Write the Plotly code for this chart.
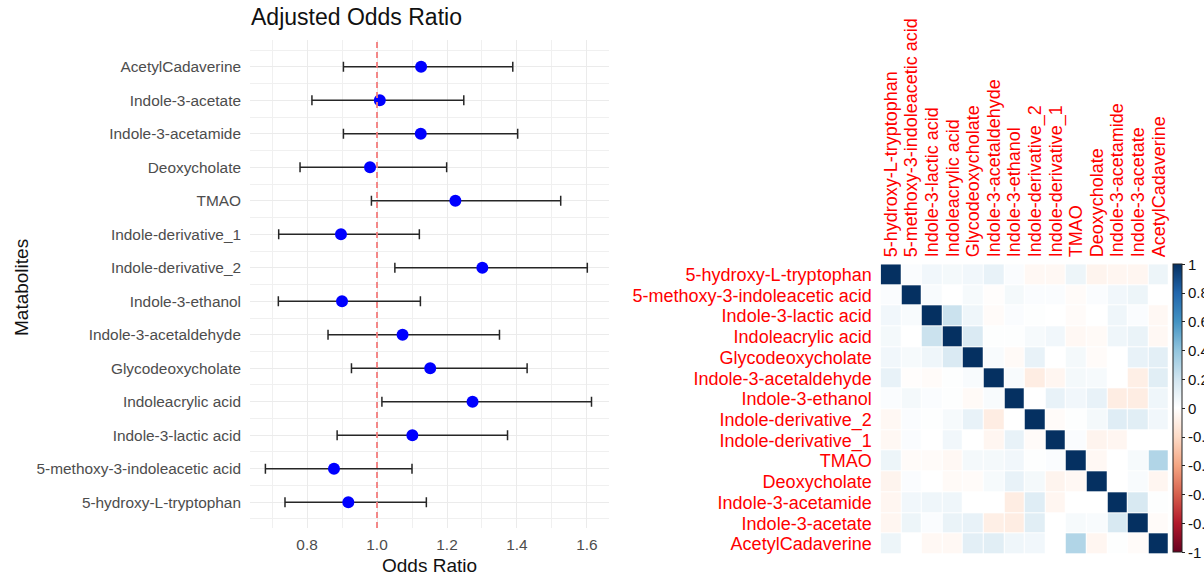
import plotly.graph_objects as go

W, H = 1204, 577

# ---------------- data ----------------
metabolites = [
    "5-hydroxy-L-tryptophan", "5-methoxy-3-indoleacetic acid", "Indole-3-lactic acid",
    "Indoleacrylic acid", "Glycodeoxycholate", "Indole-3-acetaldehyde", "Indole-3-ethanol",
    "Indole-derivative_2", "Indole-derivative_1", "TMAO", "Deoxycholate",
    "Indole-3-acetamide", "Indole-3-acetate", "AcetylCadaverine",
]
odds_ratio = [0.918, 0.877, 1.101, 1.273, 1.152, 1.073, 0.900, 1.301, 0.897, 1.224, 0.980, 1.125, 1.008, 1.126]
ci_low = [0.737, 0.681, 0.886, 1.014, 0.927, 0.860, 0.718, 1.051, 0.719, 0.984, 0.780, 0.904, 0.814, 0.904]
ci_high = [1.141, 1.100, 1.373, 1.613, 1.429, 1.350, 1.124, 1.601, 1.121, 1.525, 1.199, 1.402, 1.248, 1.388]

x_ticks = [0.8, 1.0, 1.2, 1.4, 1.6]
x_tick_labels = ["0.8", "1.0", "1.2", "1.4", "1.6"]

corr = [
    [1.00, 0.02, 0.06, 0.05, 0.06, 0.10, 0.02, -0.04, -0.04, 0.08, -0.06, -0.05, -0.05, 0.08],
    [0.02, 1.00, 0.03, 0.00, 0.04, -0.01, 0.05, 0.02, 0.02, -0.02, 0.02, 0.06, 0.08, 0.00],
    [0.06, 0.03, 1.00, 0.22, 0.07, -0.02, 0.02, 0.01, 0.00, -0.02, 0.00, 0.07, 0.02, -0.04],
    [0.05, 0.00, 0.22, 1.00, 0.16, 0.01, 0.01, 0.04, 0.06, -0.04, -0.03, 0.07, 0.09, -0.04],
    [0.06, 0.04, 0.07, 0.16, 1.00, 0.03, -0.03, 0.10, 0.00, 0.05, -0.02, 0.00, 0.10, 0.12],
    [0.10, -0.01, -0.02, 0.01, 0.03, 1.00, 0.03, -0.10, -0.05, 0.05, 0.04, 0.00, -0.09, 0.13],
    [0.02, 0.05, 0.02, 0.01, -0.03, 0.03, 1.00, 0.00, 0.10, 0.06, 0.10, -0.10, -0.10, 0.07],
    [-0.04, 0.02, 0.01, 0.04, 0.10, -0.10, 0.00, 1.00, -0.02, 0.01, 0.05, 0.14, 0.13, 0.06],
    [-0.04, 0.02, 0.00, 0.06, 0.00, -0.05, 0.10, -0.02, 1.00, 0.02, -0.06, -0.05, 0.00, 0.00],
    [0.08, -0.02, -0.02, -0.04, 0.05, 0.05, 0.06, 0.01, 0.02, 1.00, -0.04, 0.00, 0.04, 0.30],
    [-0.06, 0.02, 0.00, -0.03, -0.02, 0.04, 0.10, 0.05, -0.06, -0.04, 1.00, 0.00, 0.03, -0.05],
    [-0.05, 0.06, 0.07, 0.07, 0.00, 0.00, -0.10, 0.14, -0.05, 0.00, 0.00, 1.00, 0.17, 0.01],
    [-0.05, 0.08, 0.02, 0.09, 0.10, -0.09, -0.10, 0.13, 0.00, 0.04, 0.03, 0.17, 1.00, -0.02],
    [0.08, 0.00, -0.04, -0.04, 0.12, 0.13, 0.07, 0.06, 0.00, 0.30, -0.05, 0.01, -0.02, 1.00],
]

cbar_ticks = [1, 0.8, 0.6, 0.4, 0.2, 0, -0.2, -0.4, -0.6, -0.8, -1]
cbar_labels = ["1", "0.8", "0.6", "0.4", "0.2", "0", "-0.2", "-0.4", "-0.6", "-0.8", "-1"]

corr_colors = ["#67001F", "#B2182B", "#D6604D", "#F4A582", "#FDDBC7", "#FFFFFF",
               "#D1E5F0", "#92C5DE", "#4393C3", "#2166AC", "#053061"]

# ---------------- figure ----------------
FONT = "Liberation Sans, Arial, Helvetica, sans-serif"
n = len(metabolites)
ypos = list(range(1, n + 1))

def px_x(p):
    return p / W

def px_y(p):
    return (H - p) / H

fig = go.Figure()

fig.add_trace(go.Scatter(
    x=odds_ratio, y=ypos, mode="markers",
    marker=dict(color="#0000FF", size=12),
    error_x=dict(type="data", symmetric=False,
                 array=[h - o for h, o in zip(ci_high, odds_ratio)],
                 arrayminus=[o - l for o, l in zip(odds_ratio, ci_low)],
                 color="#262626", thickness=1.5, width=5),
    xaxis="x", yaxis="y", showlegend=False, hoverinfo="skip",
))

fig.add_trace(go.Heatmap(
    z=corr, x=metabolites, y=metabolites,
    zmin=-1, zmax=1,
    colorscale=[[i / (len(corr_colors) - 1), c] for i, c in enumerate(corr_colors)],
    xgap=1, ygap=1,
    xaxis="x2", yaxis="y2",
    colorbar=dict(
        x=px_x(1173), xanchor="left", xpad=0,
        y=px_y(408.3), yanchor="middle", ypad=0,
        len=288 / H, lenmode="fraction", thickness=9,
        outlinewidth=1, outlinecolor="#222",
        tickmode="array", tickvals=cbar_ticks, ticktext=cbar_labels,
        ticks="outside", ticklen=3, tickcolor="#222",
        tickfont=dict(family=FONT, size=15, color="#111"),
    ),
    hoverinfo="skip",
))

# dashed reference line at OR = 1
fig.add_shape(type="line", xref="x", yref="paper", x0=1.0, x1=1.0,
              y0=px_y(528), y1=px_y(40),
              line=dict(color="#F27C7C", width=1.8, dash="6px,4px"))

fig.update_layout(
    width=W, height=H,
    margin=dict(l=0, r=0, t=0, b=0, autoexpand=False),
    paper_bgcolor="white", plot_bgcolor="white",
    font=dict(family=FONT),
    xaxis=dict(
        domain=[px_x(250), px_x(609)],
        range=[0.637, 1.663],
        tickmode="array", tickvals=x_ticks, ticktext=x_tick_labels,
        tickfont=dict(size=15.4, color="#4D4D4D"),
        showgrid=True, gridcolor="#EBEBEB", gridwidth=1.4,
        minor=dict(tickvals=[0.7, 0.9, 1.1, 1.3, 1.5], showgrid=True,
                   gridcolor="#F0F0F0", gridwidth=1),
        zeroline=False, showline=False, ticks="", ticklabelstandoff=6,
        anchor="y",
    ),
    yaxis=dict(
        domain=[px_y(528), px_y(40)],
        range=[0.23, 14.8],
        tickmode="array", tickvals=ypos, ticktext=metabolites,
        tickfont=dict(size=15.4, color="#4D4D4D"),
        showgrid=True, gridcolor="#EBEBEB", gridwidth=1.4,
        minor=dict(tickvals=[p + 0.5 for p in [0] + ypos], showgrid=True,
                   gridcolor="#F0F0F0", gridwidth=1),
        zeroline=False, showline=False, ticks="", ticklabelstandoff=8,
        anchor="x",
    ),
    xaxis2=dict(
        domain=[px_x(880.7), px_x(1169)],
        side="top", tickangle=-90, type="category",
        tickmode="array", tickvals=metabolites, ticktext=metabolites,
        tickfont=dict(size=18, color="#FF0000"),
        showgrid=False, zeroline=False, showline=False, ticks="",
        ticklabelstandoff=6, anchor="y2",
    ),
    yaxis2=dict(
        domain=[px_y(554.3), px_y(264.3)],
        autorange="reversed", type="category",
        tickmode="array", tickvals=metabolites, ticktext=metabolites,
        tickfont=dict(size=18, color="#FF0000"),
        showgrid=False, zeroline=False, showline=False, ticks="",
        ticklabelstandoff=8, anchor="x2",
    ),
    annotations=[
        dict(text="Adjusted Odds Ratio", x=px_x(249), y=px_y(17), xref="paper", yref="paper",
             xanchor="left", yanchor="middle", showarrow=False,
             font=dict(size=23, color="#111", family=FONT)),
        dict(text="Odds Ratio", x=px_x(429.5), y=px_y(565), xref="paper", yref="paper",
             xanchor="center", yanchor="middle", showarrow=False,
             font=dict(size=19, color="#111", family=FONT)),
        dict(text="Matabolites", x=px_x(21), y=px_y(288), xref="paper", yref="paper",
             xanchor="center", yanchor="middle", showarrow=False, textangle=-90,
             font=dict(size=19, color="#111", family=FONT)),
    ],
)

fig.write_html("out.html")
